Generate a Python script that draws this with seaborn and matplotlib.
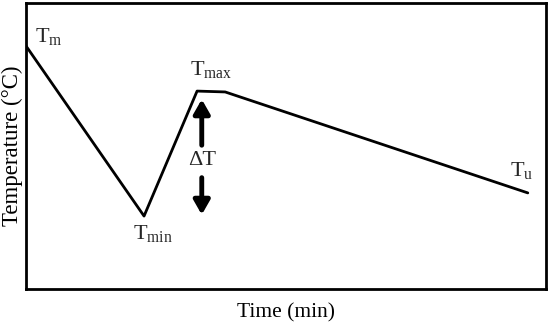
import matplotlib
matplotlib.use("Agg")
import matplotlib.pyplot as plt
import seaborn as sns
import pandas as pd

# cooling curve, arbitrary units
time = [0.0, 22.7, 32.9, 38.3, 96.5]
temp = [85.0, 25.5, 69.2, 68.9, 33.6]

sns.set_theme(style="white")
plt.rcParams["font.family"] = ["Liberation Serif", "DejaVu Serif"]
plt.rcParams["mathtext.fontset"] = "custom"
plt.rcParams["mathtext.rm"] = "Liberation Serif"

df = pd.DataFrame({"Time": time, "Temp": temp})

fig = plt.figure(figsize=(5.5, 3.27), dpi=100)
ax = fig.add_axes([26 / 550, 1 - 289 / 327, 520 / 550, 286 / 327])
sns.lineplot(data=df, x="Time", y="Temp", ax=ax, color="black", linewidth=2, sort=False)
ax.set_xlim(0, 100)
ax.set_ylim(0, 100)
ax.set_xticks([])
ax.set_yticks([])
ax.set_xlabel("Time (min)", fontsize=15.5, color="black", labelpad=10)
ax.set_ylabel("Temperature (°C)", fontsize=16.5, color="black", labelpad=2)
for s in ax.spines.values():
    s.set_color("black")
    s.set_linewidth(2)

fs = 16
ax.text(1.8, 86.5, r"$\mathrm{T_{m}}$", fontsize=fs)
ax.text(20.6, 23, r"$\mathrm{T_{min}}$", fontsize=fs, va="top")
ax.text(31.5, 75, r"$\mathrm{T_{max}}$", fontsize=fs)
ax.text(93.1, 39.5, r"$\mathrm{T_{u}}$", fontsize=fs)
ax.text(33.8, 45.0, "ΔT", fontsize=fs, ha="center", va="center")

arrow = dict(arrowstyle="-|>,head_width=0.4,head_length=0.7", color="black", lw=3.5)
ax.annotate("", xy=(33.8, 67.3), xytext=(33.8, 49.3), arrowprops=arrow)
ax.annotate("", xy=(33.8, 25.0), xytext=(33.8, 39.9), arrowprops=arrow)

fig.savefig("out.png", dpi=100)
